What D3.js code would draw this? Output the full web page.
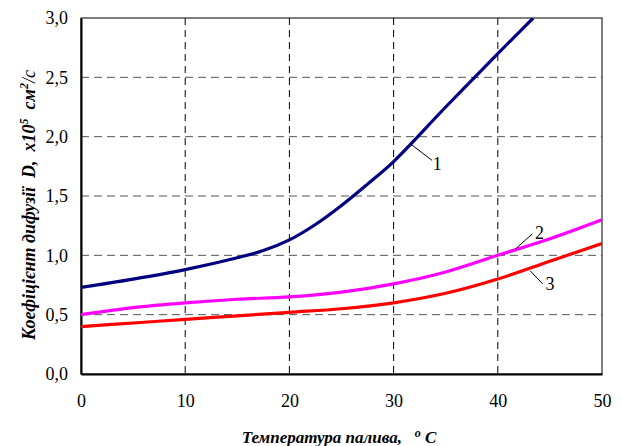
<!DOCTYPE html>
<html>
<head>
<meta charset="utf-8">
<script src="https://cdn.jsdelivr.net/npm/d3@7"></script>
<style>
  body { margin: 0; background: #fff; }
  text { font-family: 'Liberation Serif', 'Times New Roman', serif; white-space: pre; }
</style>
</head>
<body>
<div id="chartwrap"></div>
<script>
const WIDTH = 622;
const HEIGHT = 446;
const margin = { left: 81, top: 18, right: 20, bottom: 72 };

// values
const temps1 = [0, 5, 10, 15, 17.5, 20, 22.5, 25, 27.5, 30, 35, 40, 43.4];
const diff1 = [0.73, 0.80, 0.88, 0.98, 1.04, 1.13, 1.26, 1.42, 1.60, 1.79, 2.25, 2.70, 3.0];
const temps = [0, 5, 10, 15, 20, 25, 30, 35, 40, 45, 50];
const diff2 = [0.50, 0.56, 0.60, 0.63, 0.65, 0.69, 0.76, 0.86, 1.00, 1.14, 1.30];
const diff3 = [0.40, 0.43, 0.46, 0.49, 0.52, 0.55, 0.60, 0.68, 0.80, 0.95, 1.10];

const xTicks = [0, 10, 20, 30, 40, 50];
const yTicks = [0, 0.5, 1.0, 1.5, 2.0, 2.5, 3.0];

const series = [
  { name: '1', x: temps1, y: diff1, color: '#000080' },
  { name: '2', x: temps, y: diff2, color: '#FF00FF' },
  { name: '3', x: temps, y: diff3, color: '#FF0000' }
];

// curve labels: leader start, leader end, text position (data units)
const labels = [
  { text: '1', from: [31.6, 1.94], to: [33.7, 1.80], at: [34.2, 1.77] },
  { text: '2', from: [41.65, 1.05], to: [43.3, 1.18], at: [44.0, 1.19] },
  { text: '3', from: [43.1, 0.87], to: [44.3, 0.76], at: [45.0, 0.76] }
];

const w = WIDTH - margin.left - margin.right;
const h = HEIGHT - margin.top - margin.bottom;

const x = d3.scaleLinear().domain([0, 50]).range([0, w]);
const y = d3.scaleLinear().domain([0, 3]).range([h, 0]);

const svg = d3.select('#chartwrap')
  .append('svg')
  .attr('width', WIDTH)
  .attr('height', HEIGHT);

const g = svg.append('g')
  .attr('transform', `translate(${margin.left},${margin.top})`);

svg.append('defs').append('clipPath')
  .attr('id', 'plotclip')
  .append('rect')
  .attr('width', w)
  .attr('height', h);

// grid
g.selectAll('.hgrid')
  .data(yTicks.filter(d => d > 0 && d < 3))
  .enter()
  .append('line')
  .attr('x1', 0)
  .attr('x2', w)
  .attr('y1', d => y(d))
  .attr('y2', d => y(d))
  .attr('stroke', '#555')
  .attr('stroke-width', 1)
  .attr('stroke-dasharray', '8,5');

g.selectAll('.vgrid')
  .data(xTicks.filter(d => d > 0 && d < 50))
  .enter()
  .append('line')
  .attr('x1', d => x(d))
  .attr('x2', d => x(d))
  .attr('y1', 0)
  .attr('y2', h)
  .attr('stroke', '#000')
  .attr('stroke-width', 1)
  .attr('stroke-dasharray', '7,5');

// frame
g.append('rect')
  .attr('width', w)
  .attr('height', h)
  .attr('fill', 'none')
  .attr('stroke', '#000')
  .attr('stroke-width', 1);

const xAxis = d3.axisBottom(x)
  .tickValues(xTicks)
  .tickSize(0)
  .tickPadding(20)
  .tickFormat(d3.format('d'));

const yAxis = d3.axisLeft(y)
  .tickValues(yTicks)
  .tickSize(0)
  .tickPadding(13)
  .tickFormat(d => d.toFixed(1).replace('.', ','));

g.append('g')
  .attr('transform', `translate(0,${h})`)
  .call(xAxis)
  .call(a => a.select('.domain').attr('stroke', '#000').attr('stroke-width', 2))
  .selectAll('text')
  .attr('font-family', "'Liberation Serif', serif")
  .attr('font-size', 18)
  .attr('fill', '#000');

g.append('g')
  .call(yAxis)
  .call(a => a.select('.domain').attr('stroke', '#000').attr('stroke-width', 2))
  .selectAll('text')
  .attr('font-family', "'Liberation Serif', serif")
  .attr('font-size', 18)
  .attr('fill', '#000');

// curves
const line = d3.line()
  .x(d => x(d[0]))
  .y(d => y(d[1]))
  .curve(d3.curveCatmullRom.alpha(0.5));

g.append('g')
  .attr('clip-path', 'url(#plotclip)')
  .selectAll('path')
  .data(series)
  .enter()
  .append('path')
  .attr('d', s => line(s.x.map((t, i) => [t, s.y[i]])))
  .attr('fill', 'none')
  .attr('stroke', s => s.color)
  .attr('stroke-width', 3.2);

// curve labels
g.selectAll('.leader')
  .data(labels)
  .enter()
  .append('line')
  .attr('x1', d => x(d.from[0]))
  .attr('y1', d => y(d.from[1]))
  .attr('x2', d => x(d.to[0]))
  .attr('y2', d => y(d.to[1]))
  .attr('stroke', '#000')
  .attr('stroke-width', 1);

g.selectAll('.clabel')
  .data(labels)
  .enter()
  .append('text')
  .attr('x', d => x(d.at[0]))
  .attr('y', d => y(d.at[1]))
  .attr('text-anchor', 'middle')
  .attr('dy', '0.35em')
  .attr('font-size', 18)
  .text(d => d.text);

// axis titles
const xt = svg.append('text')
  .attr('x', 339)
  .attr('y', 443)
  .attr('text-anchor', 'middle')
  .attr('font-size', 17)
  .attr('font-weight', 'bold')
  .attr('font-style', 'italic');
xt.append('tspan').text('Температура палива,   ');
xt.append('tspan').attr('font-size', 12).attr('dy', -6).text('o');
xt.append('tspan').attr('dy', 6).text(' C');

const yt = svg.append('text')
  .attr('transform', 'translate(35,205) rotate(-90)')
  .attr('text-anchor', 'middle')
  .attr('font-size', 18)
  .attr('font-weight', 'bold')
  .attr('font-style', 'italic');
yt.append('tspan').text('Коефіцієнт дифузії  D,  x10');
yt.append('tspan').attr('font-size', 12).attr('dy', -7).text('5');
yt.append('tspan').attr('dy', 7).text('  см');
yt.append('tspan').attr('font-size', 12).attr('dy', -7).text('2');
yt.append('tspan').attr('dy', 7).attr('font-weight', 'normal').text('/с');
</script>
</body>
</html>
